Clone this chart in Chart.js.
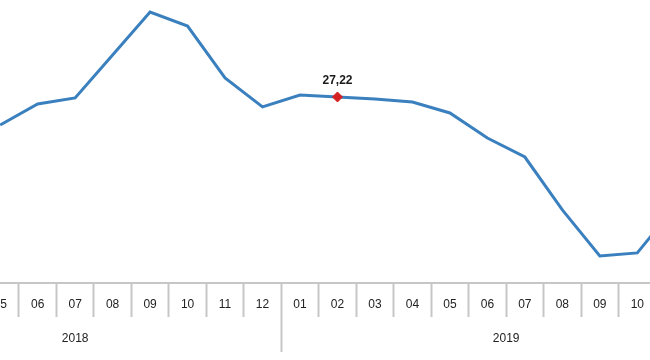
<!DOCTYPE html>
<html>
<head>
<meta charset="utf-8">
<script src="https://cdn.jsdelivr.net/npm/chart.js@4"></script>
<style>
  html, body { margin: 0; padding: 0; background: #fff; overflow: hidden; width: 650px; height: 360px; }
  #wrap { position: absolute; left: -131px; top: 0; width: 862px; height: 360px; }
</style>
</head>
<body>
<div id="wrap"><canvas id="grafico" width="862" height="360"></canvas></div>
<script>
// aylar (2018-02 .. 2019-12), gorunmeyen aylar null
const months = ['02','03','04','05','06','07','08','09','10','11','12',
                '01','02','03','04','05','06','07','08','09','10','11','12'];
const years = ['2018', '2019'];
const values = [null, null, null, 25.22, 26.72, 27.15, 30.22, 33.29, 32.29, 28.58, 26.51,
                27.36, 27.22, 27.08, 26.86, 26.08, 24.29, 22.93, 19.15, 15.86, 16.08, 19.36, null];
const markIndex = 12; // 2019-02
const markLabel = '27,22';

// yil sinirlari ve ortalari
const yearStart = months.indexOf('01', 1);
const yearTicks = [
  { value: (-0.5 + yearStart - 0.5) / 2, label: years[0] },
  { value: yearStart - 0.5, label: '' },
  { value: (yearStart - 0.5 + months.length - 0.5) / 2, label: years[1] }
];

const fontFam = "'Liberation Sans', Arial, sans-serif";
const gri = '#c6c6c6';

const etiket = {
  id: 'etiket',
  afterDatasetsDraw(chart) {
    const pt = chart.getDatasetMeta(0).data[markIndex];
    const ctx = chart.ctx;
    ctx.save();
    ctx.font = 'bold 12px ' + fontFam;
    ctx.fillStyle = '#1a1a1a';
    ctx.textAlign = 'center';
    ctx.textBaseline = 'middle';
    ctx.fillText(markLabel, pt.x, pt.y - 16);
    ctx.restore();
  }
};

new Chart(document.getElementById('grafico'), {
  type: 'line',
  data: {
    labels: months,
    datasets: [{
      data: values,
      borderColor: '#3a80be',
      borderWidth: 3,
      tension: 0,
      pointStyle: 'rectRot',
      pointRadius: ctx => ctx.dataIndex === markIndex ? 5 : 0,
      pointHoverRadius: 0,
      pointBackgroundColor: '#d42020',
      pointBorderColor: '#d42020',
      pointBorderWidth: 1
    }]
  },
  options: {
    responsive: false,
    animation: false,
    layout: { padding: 0 },
    plugins: {
      legend: { display: false },
      title: { display: false },
      tooltip: { enabled: false }
    },
    scales: {
      y: {
        display: false,
        min: 13.93,
        max: 34.15
      },
      x: {
        type: 'category',
        position: 'bottom',
        weight: 0,
        offset: true,
        afterFit: scale => { scale.height = 34; },
        grid: {
          display: true,
          offset: true,
          drawOnChartArea: false,
          drawTicks: true,
          tickLength: 34,
          tickColor: gri,
          tickWidth: 2
        },
        border: { display: true, color: gri, width: 2 },
        ticks: {
          autoSkip: false,
          maxRotation: 0,
          padding: -20,
          color: '#222',
          font: { family: fontFam, size: 12 }
        }
      },
      x2: {
        type: 'linear',
        position: 'bottom',
        weight: 1,
        min: -0.5,
        max: months.length - 0.5,
        afterBuildTicks: scale => {
          scale.ticks = yearTicks.map(t => ({ value: t.value }));
        },
        afterFit: scale => { scale.height = 43; },
        grid: {
          display: true,
          drawOnChartArea: false,
          drawTicks: true,
          tickLength: 35,
          tickColor: ctx => (ctx.tick && ctx.tick.value === yearStart - 0.5) ? gri : 'rgba(0,0,0,0)',
          tickWidth: 2
        },
        border: { display: false },
        ticks: {
          autoSkip: false,
          maxRotation: 0,
          padding: -21,
          color: '#222',
          font: { family: fontFam, size: 12 },
          callback: value => {
            const t = yearTicks.find(t => t.value === value);
            return t ? t.label : '';
          }
        }
      }
    }
  },
  plugins: [etiket]
});
</script>
</body>
</html>
